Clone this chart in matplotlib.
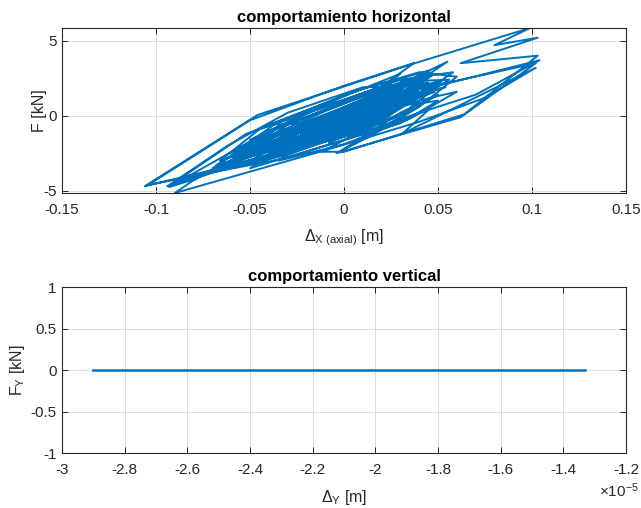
import matplotlib

matplotlib.use("Agg")
import matplotlib.pyplot as plt
from matplotlib.ticker import FuncFormatter

plt.rcParams["font.family"] = ["Liberation Sans", "DejaVu Sans"]
plt.rcParams["mathtext.fontset"] = "custom"
plt.rcParams["mathtext.rm"] = "Liberation Sans"
plt.rcParams["mathtext.it"] = "Liberation Sans:italic"
plt.rcParams["mathtext.bf"] = "Liberation Sans:bold"

BLUE = "#0072BD"
DARK = "#262626"

# horizontal hysteresis: displacement [m] vs force [kN]
dx = [
    0.000, 0.015, -0.003, -0.012, 0.014, 0.026, -0.010, -0.021,
    0.008, 0.031, 0.006, -0.030, -0.008, 0.022, -0.001, -0.040,
    -0.018, 0.030, 0.012, -0.026, -0.058, -0.035, 0.010, 0.038,
    0.015, -0.020, -0.070, -0.040, 0.022, 0.045, 0.020, -0.015,
    0.005, 0.035, -0.005, -0.050, -0.022, 0.012, 0.040, -0.020,
    -0.106, -0.046, 0.035, 0.099, 0.080, 0.103, 0.062, 0.103,
    0.064, 0.000, -0.012, 0.010, 0.040, 0.015, -0.001, 0.030,
    0.050, 0.020, -0.030, -0.104, -0.050, 0.000, 0.037, 0.012,
    -0.030, -0.060, -0.030, 0.020, 0.055, 0.030, 0.102, 0.062,
    -0.004, 0.020, 0.045, 0.031, 0.102, 0.075, 0.040, -0.010,
    -0.090, -0.079, -0.093, -0.040, 0.000, 0.030, 0.005, -0.035,
    -0.094, -0.062, -0.030, 0.010, 0.050, 0.104, 0.070, 0.040,
    0.010, -0.065, 0.020, 0.048, -0.010, -0.048, 0.030, 0.052,
    0.012, -0.058, -0.040, 0.015, 0.040, -0.015, -0.052, 0.005,
    0.044, 0.025, -0.032, -0.062, -0.020, 0.035, 0.056, 0.018,
    -0.045, -0.025, 0.028, 0.048, 0.005, -0.036, -0.012, 0.040,
    0.020, -0.028, -0.068, -0.038, 0.008, 0.042, 0.010, -0.040,
    -0.015, 0.032, 0.054, 0.020, -0.030, -0.055, -0.010, 0.025,
    0.000, -0.045, -0.020, -0.092, -0.052, 0.000, 0.033, 0.010,
    -0.022, -0.085, -0.072, -0.080, -0.040, 0.005, 0.045, 0.015,
    -0.040, -0.018, 0.025, 0.050, 0.030, -0.005, -0.060, -0.035,
    0.015, 0.038, 0.008, -0.045, -0.020, 0.025, 0.000, -0.035,
    0.005, 0.042, 0.018, -0.028, -0.055, -0.030, 0.015, 0.033,
    0.008, -0.042, -0.015, 0.028, 0.002, -0.024, 0.004, 0.046,
    0.024, -0.018, -0.048, -0.026, 0.018, 0.038, 0.005, -0.035,
    -0.010, 0.026, 0.050, 0.022, -0.008, 0.012, 0.030, 0.010,
    -0.030, -0.008, 0.020, 0.000, -0.020, 0.000, 0.015, 0.000,
    -0.040, 0.010, 0.045, 0.020, -0.025, -0.050, -0.015, 0.030,
    0.058, 0.035, -0.005, -0.042, -0.066, -0.045, 0.005, 0.040,
    0.060, 0.040, 0.000, -0.030, -0.075, -0.055, -0.020, 0.015,
    0.050, 0.030, -0.010, -0.050, -0.030, 0.010, 0.046, 0.060,
    0.035, 0.000, -0.035, -0.018, 0.022, 0.044, 0.012, -0.032,
]
fx = [
    0.00, 0.90, -0.50, -0.90, 1.10, 1.60, -1.20, -1.70,
    0.90, 1.90, -0.50, -2.00, 0.00, 1.40, -0.60, -2.40,
    -0.30, 1.80, 0.10, -1.60, -2.90, -0.80, 1.40, 2.50,
    0.20, -1.60, -3.50, -1.00, 1.80, 2.90, 0.30, -1.70,
    0.20, 1.60, -1.50, -3.10, -0.60, 1.00, 1.60, -2.10,
    -4.70, 0.05, 3.40, 5.85, 4.70, 5.20, 3.50, 4.00,
    0.10, -2.40, -2.40, -1.00, 0.60, -1.30, -2.30, 0.20,
    1.40, -0.80, -2.80, -4.60, -0.30, 2.00, 3.50, 1.20,
    -1.20, -3.20, -1.50, 1.50, 3.60, 1.50, 3.50, -0.10,
    -2.50, -0.80, 0.40, -1.20, 3.20, 1.20, -0.40, -2.30,
    -5.15, -4.20, -4.75, -1.00, 1.30, 2.80, 0.30, -2.00,
    -4.70, -2.00, 0.20, 1.90, 2.00, 3.70, 1.40, 0.20,
    -1.10, -3.40, 0.30, 1.60, -1.20, -2.40, 1.60, 2.30,
    -0.60, -3.30, -1.40, 1.00, 1.40, -1.90, -2.60, 0.80,
    2.60, 0.20, -2.20, -2.80, -0.40, 2.30, 2.40, -0.40,
    -3.10, -1.20, 1.00, 2.80, -0.70, -2.70, -0.70, 1.90,
    -0.10, -1.70, -3.30, -1.00, 1.30, 2.70, 0.10, -2.50,
    -0.90, 1.40, 1.90, 0.60, -1.40, -2.20, 0.30, 2.10,
    0.10, -2.00, -1.80, -4.60, -1.20, 1.00, 2.60, -0.20,
    -1.90, -4.40, -3.70, -4.30, -1.60, 0.60, 2.20, -0.30,
    -2.20, -0.60, 0.70, 2.00, 0.00, -1.60, -2.60, -0.40,
    1.70, 2.20, -0.50, -2.60, -0.50, 1.90, -0.30, -2.20,
    0.70, 2.40, 0.60, -1.90, -2.70, -0.60, 1.60, 2.10,
    -0.20, -2.20, -0.20, 2.00, -0.90, -2.10, 0.20, 2.10,
    0.00, -2.00, -2.90, -0.90, 1.20, 1.80, -1.10, -2.60,
    -0.30, 1.30, 2.30, -0.10, -1.80, -0.40, 0.80, -0.90,
    -2.40, -0.50, 0.90, -0.60, -1.40, 0.10, 0.60, -0.40,
    -0.60, 1.80, 3.00, 1.00, -0.90, -1.60, 0.40, 2.40,
    2.90, 0.90, -0.80, -1.90, -3.00, -0.90, 1.60, 2.90,
    2.60, 0.60, -1.30, -2.60, -3.90, -2.90, -1.20, 0.40,
    1.00, -0.50, -2.00, -3.50, -2.00, 0.00, 1.20, 1.60,
    -0.20, -1.90, -3.00, -1.50, 1.20, 2.20, 0.30, -1.00,
]

# vertical response: displacement [m] vs force [kN]
dy = [-2.90e-5, -2.40e-5, -2.00e-5, -1.60e-5, -1.33e-5]
fy = [0.0, 0.0, 0.0, 0.0, 0.0]

x_ticks_h = [-0.15, -0.1, -0.05, 0, 0.05, 0.1, 0.15]
y_ticks_h = [-5, 0, 5]
x_ticks_v = [-3.0e-5, -2.8e-5, -2.6e-5, -2.4e-5, -2.2e-5, -2.0e-5,
             -1.8e-5, -1.6e-5, -1.4e-5, -1.2e-5]
y_ticks_v = [-1, -0.5, 0, 0.5, 1]


def style(ax):
    ax.grid(True, color="#dcdcdc", linewidth=0.7)
    ax.set_axisbelow(True)
    ax.tick_params(direction="in", top=True, right=True, length=4,
                   width=0.7, colors=DARK, labelsize=11)
    ax.tick_params(axis="x", pad=7)
    ax.tick_params(axis="y", pad=4)
    for s in ax.spines.values():
        s.set_color(DARK)
        s.set_linewidth(0.8)


fig = plt.figure(figsize=(6.41, 5.08), dpi=100)

ax1 = fig.add_axes([0.0967, 0.620, 0.880, 0.325])
ax1.plot(dx, fx, color=BLUE, linewidth=1.4)
ax1.set_xlim(-0.15, 0.15)
ax1.set_ylim(min(fx), max(fx))
ax1.set_xticks(x_ticks_h)
ax1.set_xticklabels(["-0.15", "-0.1", "-0.05", "0", "0.05", "0.1", "0.15"])
ax1.set_yticks(y_ticks_h)
ax1.set_yticklabels(["-5", "0", "5"])
style(ax1)
ax1.set_title("comportamiento horizontal", fontsize=12, fontweight="bold",
              color="black", pad=4)
ax1.set_xlabel(r"$\Delta_{\mathrm{X\ (axial)}}$ [m]", fontsize=11.5,
               color=DARK, labelpad=8)
ax1.set_ylabel("F [kN]", fontsize=11.5, color=DARK)
ax1.yaxis.set_label_coords(-0.027, 0.5)

ax2 = fig.add_axes([0.0967, 0.108, 0.880, 0.327])
ax2.plot(dy, fy, color=BLUE, linewidth=1.8)
ax2.set_xlim(-3.0e-5, -1.2e-5)
ax2.set_ylim(-1, 1)
ax2.set_xticks(x_ticks_v)
ax2.xaxis.set_major_formatter(FuncFormatter(lambda v, p: f"{v / 1e-5:g}"))
ax2.set_yticks(y_ticks_v)
ax2.set_yticklabels(["-1", "-0.5", "0", "0.5", "1"])
style(ax2)
ax2.set_title("comportamiento vertical", fontsize=12, fontweight="bold",
              color="black", pad=4)
ax2.set_xlabel(r"$\Delta_{\mathrm{Y}}$ [m]", fontsize=11.5, color=DARK,
               labelpad=8)
ax2.set_ylabel(r"$\mathrm{F_Y}$ [kN]", fontsize=11.5, color=DARK)
ax2.yaxis.set_label_coords(-0.062, 0.5)
fig.text(0.997, 0.035, r"$\times10^{-5}$", ha="right", va="center",
         fontsize=11, color=DARK)

fig.savefig("out.png", dpi=100)
plt.close(fig)
